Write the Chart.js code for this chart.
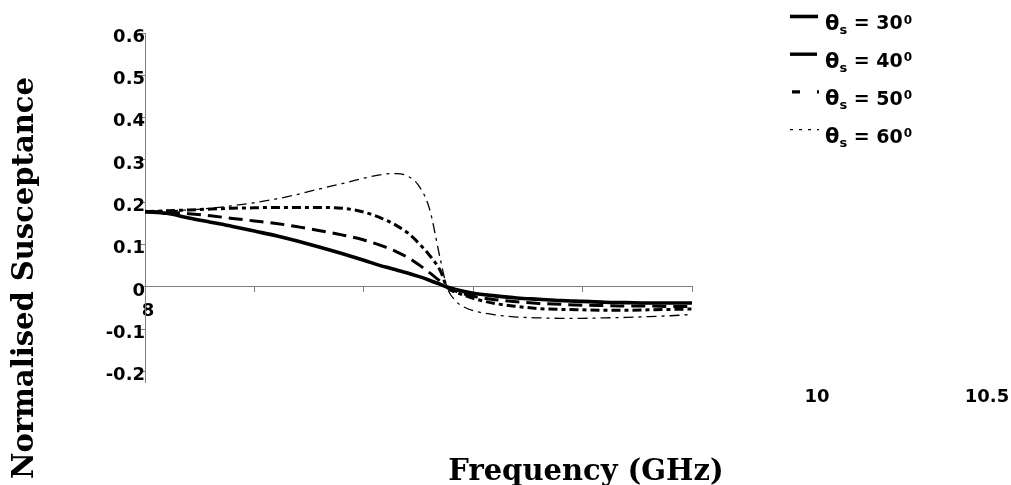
<!DOCTYPE html>
<html><head><meta charset="utf-8">
<script src="https://cdn.jsdelivr.net/npm/chart.js@4/dist/chart.umd.min.js"></script>
<style>html,body{margin:0;padding:0;background:#fff}#wrap{width:1011px;height:485px;position:relative}</style>
</head><body><div id="wrap"><canvas id="c"></canvas></div>
<script>
const frequencies = [8, 8.1, 8.2, 8.3, 8.4, 8.5, 8.6, 8.7, 8.8, 8.9, 9.0, 9.1, 9.15, 9.2, 9.25, 9.3, 9.35, 9.38, 9.42, 9.46, 9.5, 9.6, 9.7, 9.8, 9.9, 10.0, 10.1, 10.2, 10.3, 10.4, 10.5];
const s30 = [0.178, 0.174, 0.163, 0.153, 0.143, 0.132, 0.121, 0.108, 0.094, 0.079, 0.063, 0.047, 0.040, 0.033, 0.025, 0.016, 0.006, 0, -0.006, -0.011, -0.015, -0.021, -0.026, -0.029, -0.032, -0.034, -0.036, -0.037, -0.038, -0.038, -0.038];
const s40 = [0.178, 0.177, 0.173, 0.168, 0.162, 0.156, 0.150, 0.142, 0.133, 0.123, 0.111, 0.094, 0.083, 0.070, 0.053, 0.034, 0.013, 0, -0.010, -0.017, -0.022, -0.030, -0.035, -0.039, -0.041, -0.043, -0.044, -0.045, -0.045, -0.046, -0.046];
const s50 = [0.178, 0.180, 0.182, 0.184, 0.186, 0.187, 0.188, 0.188, 0.188, 0.186, 0.177, 0.158, 0.145, 0.128, 0.104, 0.075, 0.038, 0, -0.012, -0.020, -0.027, -0.039, -0.046, -0.051, -0.053, -0.054, -0.055, -0.055, -0.054, -0.053, -0.052];
const s60 = [0.178, 0.180, 0.182, 0.186, 0.192, 0.199, 0.208, 0.219, 0.232, 0.244, 0.257, 0.267, 0.268, 0.262, 0.240, 0.185, 0.065, 0, -0.033, -0.048, -0.056, -0.066, -0.071, -0.073, -0.074, -0.074, -0.073, -0.072, -0.070, -0.068, -0.065];
const seriesAngles = ['30', '40', '50', '60'];
const yTicks = [-0.2, -0.1, 0, 0.1, 0.2, 0.3, 0.4, 0.5, 0.6];
const xTicks = [8, 8.5, 9, 9.5, 10, 10.5];
const xAxisLabels = ['8', '', '', '', '', ''];
const xDetachedLabels = ['10', '10.5'];
const xTitle = 'Frequency (GHz)';
const yTitle = 'Normalised Susceptance';

const seriesValues = [s30, s40, s50, s60];
const styles = [
  {w: 3.6, dash: []},
  {w: 3, dash: [14, 7]},
  {w: 3, dash: [9, 4, 4, 4]},
  {w: 1.3, dash: [10, 5, 3, 5]}
];
const legendSamples = [
  {w: 3.6, dash: [], x0: 790, x1: 818},
  {w: 3.4, dash: [], x0: 790, x1: 817},
  {w: 3.4, dash: [8, 17, 2, 20], x0: 792, x1: 820},
  {w: 1.3, dash: [3, 6], x0: 790, x1: 819}
];

const datasets = seriesValues.map((vals, k) => ({
  label: 'θs = ' + seriesAngles[k] + '⁰',
  data: frequencies.map((f, i) => ({x: f, y: vals[i]})),
  borderColor: '#000',
  borderWidth: styles[k].w,
  borderDash: styles[k].dash,
  pointRadius: 0,
  fill: false,
  cubicInterpolationMode: 'monotone'
}));

const tickFont = {family: 'DejaVu Sans', weight: 'bold', size: 18};

const decor = {
  id: 'decor',
  afterDraw(chart) {
    const ctx = chart.ctx;
    ctx.save();
    ctx.fillStyle = '#000';
    // axis titles
    ctx.font = 'bold 29px "DejaVu Serif"';
    ctx.textAlign = 'center';
    ctx.textBaseline = 'alphabetic';
    ctx.fillText(xTitle, 586, 480);
    ctx.save();
    ctx.translate(33, 278);
    ctx.rotate(-Math.PI / 2);
    ctx.fillText(yTitle, 0, 0);
    ctx.restore();
    // detached x labels
    ctx.font = 'bold 18px "DejaVu Sans"';
    ctx.textBaseline = 'middle';
    const detachedX = [817, 987];
    xDetachedLabels.forEach((t, i) => ctx.fillText(t, detachedX[i], 397));
    // legend
    ctx.textAlign = 'left';
    seriesAngles.forEach((a, i) => {
      const ly = 16.5 + 37.7 * i;
      const ty = 24.5 + 37.7 * i;
      const s = legendSamples[i];
      ctx.beginPath();
      ctx.strokeStyle = '#000';
      ctx.lineWidth = s.w;
      ctx.setLineDash(s.dash);
      ctx.moveTo(s.x0, ly);
      ctx.lineTo(s.x1, ly);
      ctx.stroke();
      ctx.setLineDash([]);
      let x = 825;
      ctx.textBaseline = 'middle';
      ctx.font = 'bold 21px "DejaVu Sans"';
      ctx.fillText('θ', x, ty);
      x += ctx.measureText('θ').width;
      ctx.font = 'bold 13px "DejaVu Sans"';
      ctx.fillText('s', x, ty + 6);
      x += ctx.measureText('s').width;
      ctx.font = 'bold 19px "DejaVu Sans"';
      const main = ' = ' + a;
      ctx.fillText(main, x, ty);
      x += ctx.measureText(main).width + 1;
      ctx.font = 'bold 12px "DejaVu Sans"';
      ctx.fillText('0', x, ty - 4);
    });
    ctx.restore();
  }
};

new Chart(document.getElementById('c'), {
  type: 'line',
  data: {datasets},
  options: {
    responsive: true,
    maintainAspectRatio: false,
    animation: false,
    events: [],
    layout: {padding: {left: 0, top: 33, right: 319, bottom: 103}},
    plugins: {legend: {display: false}, tooltip: {enabled: false}, title: {display: false}},
    scales: {
      x: {
        type: 'linear', min: 8, max: 10.5, position: {y: 0},
        afterBuildTicks: s => { s.ticks = xTicks.map(v => ({value: v})); },
        border: {display: true, color: '#808080', width: 1},
        grid: {display: true, drawOnChartArea: false, drawTicks: true, tickLength: 5, color: '#808080'},
        ticks: {color: '#000', font: tickFont, padding: 9, labelOffset: 3, maxRotation: 0, autoSkip: false,
          callback: (v, i) => xAxisLabels[i]}
      },
      y: {
        type: 'linear', min: -0.2245, max: 0.6,
        afterBuildTicks: s => { s.ticks = yTicks.map(v => ({value: v})); },
        afterFit: s => { s.width = 145; },
        border: {display: true, color: '#808080', width: 1},
        grid: {display: true, drawOnChartArea: false, drawTicks: true, tickLength: 4, color: '#808080'},
        ticks: {color: '#000', font: tickFont, padding: -4, labelOffset: 4, autoSkip: false,
          callback: v => String(Math.round(v * 10) / 10)}
      }
    }
  },
  plugins: [decor]
});
</script>
</body></html>
